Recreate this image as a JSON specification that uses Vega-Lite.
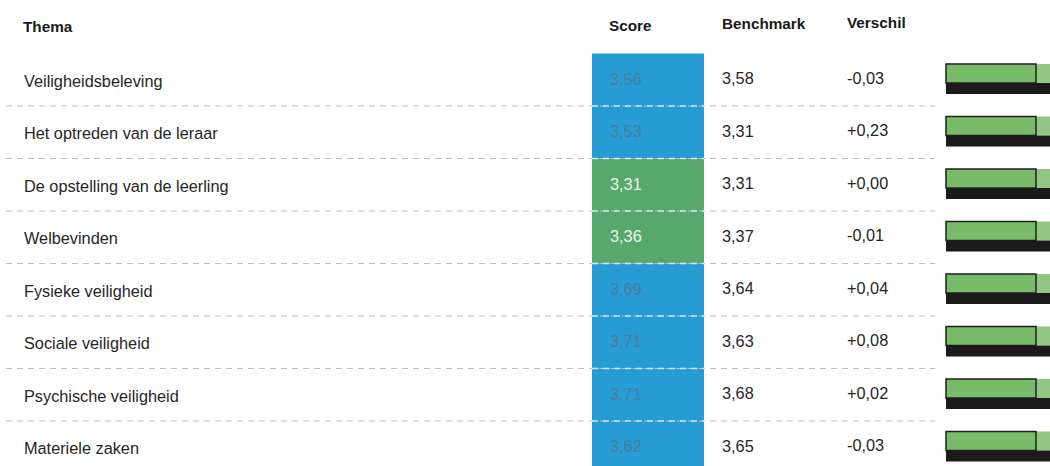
{
  "$schema": "https://vega.github.io/schema/vega-lite/v6.json",
  "width": 1050,
  "height": 466,
  "autosize": "none",
  "padding": 0,
  "background": "white",
  "config": {
    "view": {"stroke": null},
    "font": "Liberation Sans",
    "locale": {"number": {"decimal": ",", "thousands": ".", "grouping": [3], "currency": ["€", ""], "minus": "-"}}
  },
  "data": {
    "values": [
      {"thema": "Veiligheidsbeleving", "score": 3.56, "benchmark": 3.58, "verschil": -0.03, "status": "blauw"},
      {"thema": "Het optreden van de leraar", "score": 3.53, "benchmark": 3.31, "verschil": 0.23, "status": "blauw"},
      {"thema": "De opstelling van de leerling", "score": 3.31, "benchmark": 3.31, "verschil": 0.0, "status": "groen"},
      {"thema": "Welbevinden", "score": 3.36, "benchmark": 3.37, "verschil": -0.01, "status": "groen"},
      {"thema": "Fysieke veiligheid", "score": 3.69, "benchmark": 3.64, "verschil": 0.04, "status": "blauw"},
      {"thema": "Sociale veiligheid", "score": 3.71, "benchmark": 3.63, "verschil": 0.08, "status": "blauw"},
      {"thema": "Psychische veiligheid", "score": 3.71, "benchmark": 3.68, "verschil": 0.02, "status": "blauw"},
      {"thema": "Materiele zaken", "score": 3.62, "benchmark": 3.65, "verschil": -0.03, "status": "blauw"}
    ]
  },
  "encoding": {
    "y": {
      "field": "thema",
      "type": "nominal",
      "sort": null,
      "scale": {"type": "band", "range": [53.5, 473.5], "paddingInner": 0, "paddingOuter": 0},
      "axis": null
    }
  },
  "layer": [
    {
      "mark": {"type": "rect", "clip": true},
      "encoding": {
        "x": {"value": 592},
        "x2": {"value": 704},
        "color": {
          "field": "status",
          "type": "nominal",
          "scale": {"domain": ["blauw", "groen"], "range": ["#269bd4", "#58a86e"]},
          "legend": null
        }
      }
    },
    {
      "mark": {"type": "rule", "stroke": "#bdbdbd", "strokeWidth": 1, "strokeDash": [6, 5]},
      "encoding": {
        "y": {"field": "thema", "type": "nominal", "sort": null, "bandPosition": 1},
        "x": {"value": 6},
        "x2": {"value": 935}
      }
    },
    {
      "mark": {"type": "rule", "stroke": "#cfe9f5", "strokeWidth": 1.5, "strokeDash": [6, 5]},
      "encoding": {
        "y": {"field": "thema", "type": "nominal", "sort": null, "bandPosition": 1},
        "x": {"value": 592},
        "x2": {"value": 704}
      }
    },
    {
      "mark": {"type": "text", "align": "left", "baseline": "alphabetic", "dy": 7, "fontSize": 16.3, "fill": "#262626"},
      "encoding": {"x": {"value": 24}, "text": {"field": "thema"}}
    },
    {
      "mark": {"type": "text", "align": "left", "baseline": "alphabetic", "dy": 5, "fontSize": 16.3},
      "encoding": {
        "x": {"value": 610},
        "text": {"field": "score", "format": ".2f"},
        "color": {
          "condition": {"test": "datum.status === 'groen'", "value": "#eaf5ec"},
          "value": "#4d7c9e"
        }
      }
    },
    {
      "mark": {"type": "text", "align": "left", "baseline": "alphabetic", "dy": 4.5, "fontSize": 16.3, "fill": "#262626"},
      "encoding": {"x": {"value": 722}, "text": {"field": "benchmark", "format": ".2f"}}
    },
    {
      "mark": {"type": "text", "align": "left", "baseline": "alphabetic", "dy": 4, "fontSize": 16.3, "fill": "#262626"},
      "encoding": {"x": {"value": 847}, "text": {"field": "verschil", "format": "+.2f"}}
    },
    {
      "mark": {"type": "rect", "fill": "#93c585"},
      "encoding": {
        "x": {"value": 946},
        "x2": {"value": 1050},
        "y": {"field": "thema", "type": "nominal", "sort": null, "bandPosition": 0.2},
        "y2": {"field": "thema", "bandPosition": 0.56}
      }
    },
    {
      "mark": {"type": "rect", "fill": "#78bb68", "stroke": "#1f1f1f", "strokeWidth": 1.5},
      "encoding": {
        "x": {"value": 946},
        "x2": {"value": 1036},
        "y": {"field": "thema", "type": "nominal", "sort": null, "bandPosition": 0.2},
        "y2": {"field": "thema", "bandPosition": 0.56}
      }
    },
    {
      "mark": {"type": "rect", "fill": "#1c1a1a"},
      "encoding": {
        "x": {"value": 946},
        "x2": {"value": 1050},
        "y": {"field": "thema", "type": "nominal", "sort": null, "bandPosition": 0.56},
        "y2": {"field": "thema", "bandPosition": 0.77}
      }
    },
    {
      "data": {"values": [{"kop": "Thema"}]},
      "mark": {"type": "text", "align": "left", "baseline": "alphabetic", "fontSize": 15.3, "fontWeight": "bold", "fill": "#1a1a1a"},
      "encoding": {"x": {"value": 23}, "y": {"value": 32}, "text": {"field": "kop"}}
    },
    {
      "data": {"values": [{"kop": "Score"}]},
      "mark": {"type": "text", "align": "left", "baseline": "alphabetic", "fontSize": 15.3, "fontWeight": "bold", "fill": "#1a1a1a"},
      "encoding": {"x": {"value": 609}, "y": {"value": 31}, "text": {"field": "kop"}}
    },
    {
      "data": {"values": [{"kop": "Benchmark"}]},
      "mark": {"type": "text", "align": "left", "baseline": "alphabetic", "fontSize": 15.3, "fontWeight": "bold", "fill": "#1a1a1a"},
      "encoding": {"x": {"value": 722}, "y": {"value": 29}, "text": {"field": "kop"}}
    },
    {
      "data": {"values": [{"kop": "Verschil"}]},
      "mark": {"type": "text", "align": "left", "baseline": "alphabetic", "fontSize": 15.3, "fontWeight": "bold", "fill": "#1a1a1a"},
      "encoding": {"x": {"value": 847}, "y": {"value": 28}, "text": {"field": "kop"}}
    }
  ]
}
